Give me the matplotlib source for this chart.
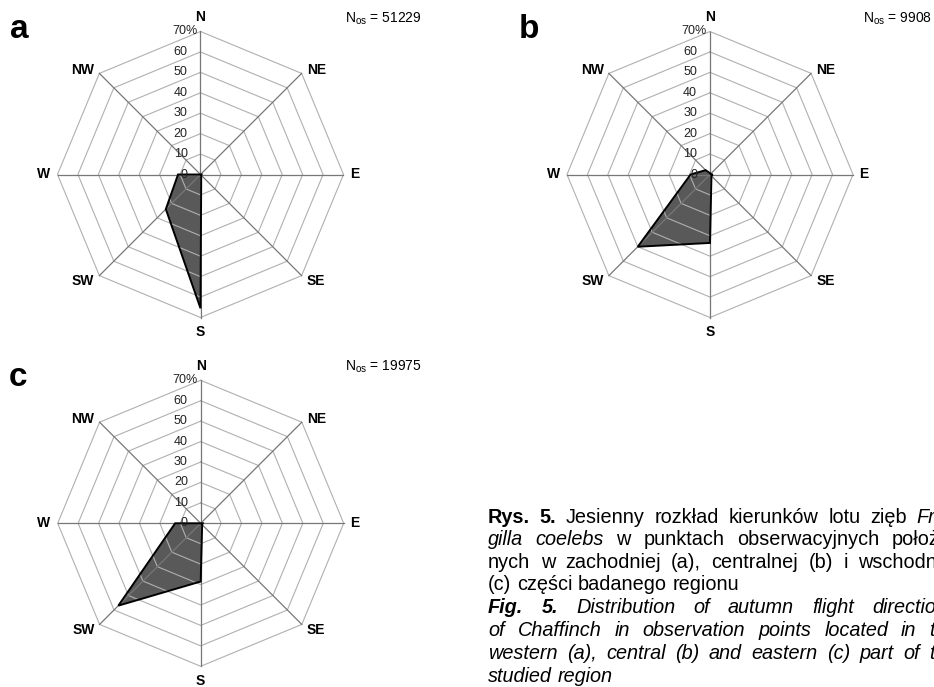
import numpy as np
import matplotlib.pyplot as plt

plt.rcParams['font.family'] = ['Liberation Sans', 'DejaVu Sans']
plt.rcParams['mathtext.fontset'] = 'custom'
plt.rcParams['mathtext.rm'] = 'Liberation Sans'
plt.rcParams['mathtext.it'] = 'Liberation Sans:italic'

# directions clockwise from north
directions = ["N", "NE", "E", "SE", "S", "SW", "W", "NW"]
levels = [0, 10, 20, 30, 40, 50, 60, 70]

# share of flights (%) per direction
share_a = [0, 0, 0.5, 0.5, 65.5, 24, 11, 0]
share_b = [0.6, 0.3, 1.3, 1, 33.5, 50, 9.5, 3]
share_c = [0, 0, 1, 1, 28.5, 57, 12.5, 0]
panel_letters = ["a", "b", "c"]
n_obs = [51229, 9908, 19975]

W, H = 934, 687
fig = plt.figure(figsize=(W / 100, H / 100), dpi=100)

s = 143 / 70.0      # pixels per percent
half = 85           # half-size of each axes, in percent units


def px(x, y):
    # pixel (from top-left) -> inches for dpi_scale_trans
    return x / 100.0, (H - y) / 100.0


def draw_rose(cx, cy, shares):
    hp = half * s
    ax = fig.add_axes([(cx - hp) / W, (H - cy - hp) / H, 2 * hp / W, 2 * hp / H])
    ax.set_xlim(-half, half)
    ax.set_ylim(-half, half)
    ax.set_aspect('equal')
    ax.axis('off')

    az = np.deg2rad(np.arange(len(directions)) * 45)
    ring_az = np.append(az, az[0])
    for lv in levels[1:]:
        ax.plot(lv * np.sin(ring_az), lv * np.cos(ring_az), color='#b0b0b0', lw=0.8, zorder=2)
    top = levels[-1]
    for a in az:
        ax.plot([0, top * np.sin(a)], [0, top * np.cos(a)], color='#777777', lw=0.9, zorder=2)

    r = np.array(shares, dtype=float)
    xs = r * np.sin(az)
    ys = r * np.cos(az)
    ax.fill(xs, ys, facecolor='#595959', edgecolor='none', zorder=1)
    ax.fill(xs, ys, facecolor='none', edgecolor='black', lw=1.4, zorder=3, joinstyle='miter')

    # value labels on the north spoke
    for lv in levels[:-1]:
        ax.text(-6.3, lv, str(lv), ha='right', va='center', fontsize=9, color='#222222', zorder=5)
    ax.text(-13.8, levels[-1], "%d%%" % levels[-1], ha='left', va='center', fontsize=9,
            color='#222222', zorder=5)

    # compass labels
    kw = dict(fontsize=10, fontweight='bold', va='center')
    ax.text(0, 77, "N", ha='center', **kw)
    ax.text(0, -77, "S", ha='center', **kw)
    ax.text(73, 0, "E", ha='left', **kw)
    ax.text(-73.5, 0, "W", ha='right', **kw)
    ax.text(52, 51.3, "NE", ha='left', **kw)
    ax.text(-52, 51.3, "NW", ha='right', **kw)
    ax.text(52, -52, "SE", ha='left', **kw)
    ax.text(-52, -52, "SW", ha='right', **kw)
    return ax


centers = [(200.5, 174.5), (710, 174.5), (200.7, 523.3)]
letter_pos = [(10, 38.5), (519, 38.5), (9, 386.5)]
nos_pos = [(345, 22.5), (863, 22.5), (345, 370.5)]
for i, shares in enumerate([share_a, share_b, share_c]):
    draw_rose(centers[i][0], centers[i][1], shares)
    fig.text(*px(*letter_pos[i]), panel_letters[i], transform=fig.dpi_scale_trans,
             fontsize=24, fontweight='bold', ha='left', va='baseline')
    fig.text(*px(*nos_pos[i]), r"N$_{\mathrm{os}}$ = %d" % n_obs[i], transform=fig.dpi_scale_trans,
             fontsize=10, ha='left', va='baseline')

# caption, justified to a column that runs past the right edge (as in the source page)
B, I, BI, R = ('bold', 'normal'), ('normal', 'italic'), ('bold', 'italic'), ('normal', 'normal')
caption = [
    ([("Rys.", B), ("5.", B), ("Jesienny", R), ("rozkład", R), ("kierunków", R), ("lotu", R),
      ("zięb", R), ("Frin-", I)], True),
    ([("gilla", I), ("coelebs", I), ("w", R), ("punktach", R), ("obserwacyjnych", R),
      ("położo-", R)], True),
    ([("nych", R), ("w", R), ("zachodniej", R), ("(a),", R), ("centralnej", R), ("(b)", R),
      ("i", R), ("wschodniej", R)], True),
    ([("(c)", R), ("części", R), ("badanego", R), ("regionu", R)], False),
    ([("Fig.", BI), ("5.", BI)] + [(w, I) for w in "Distribution of autumn flight directions".split()], True),
    ([(w, I) for w in "of Chaffinch in observation points located in the".split()], True),
    ([(w, I) for w in "western (a), central (b) and eastern (c) part of the".split()], True),
    ([(w, I) for w in "studied region".split()], False),
]
cap_left, cap_right = 488, 957
cap_base = [523, 545, 568, 590, 613, 636, 659, 682]
cap_size = 14.3

renderer = fig.canvas.get_renderer()
sp = fig.text(0, 0, "a a", fontsize=cap_size)
sp2 = fig.text(0, 0, "aa", fontsize=cap_size)
space_w = sp.get_window_extent(renderer).width - sp2.get_window_extent(renderer).width
sp.remove()
sp2.remove()

for (words, justify), yb in zip(caption, cap_base):
    texts = []
    for w, (wt, st) in words:
        t = fig.text(0, 0, w, fontsize=cap_size, fontweight=wt, fontstyle=st,
                     ha='left', va='baseline', transform=fig.dpi_scale_trans)
        texts.append(t)
    widths = [t.get_window_extent(renderer).width for t in texts]
    if justify and len(texts) > 1:
        gap = (cap_right - cap_left - sum(widths)) / (len(texts) - 1)
    else:
        gap = space_w
    x = cap_left
    for t, wd in zip(texts, widths):
        t.set_position(px(x, yb))
        x += wd + gap

fig.savefig("out.png", dpi=100)
